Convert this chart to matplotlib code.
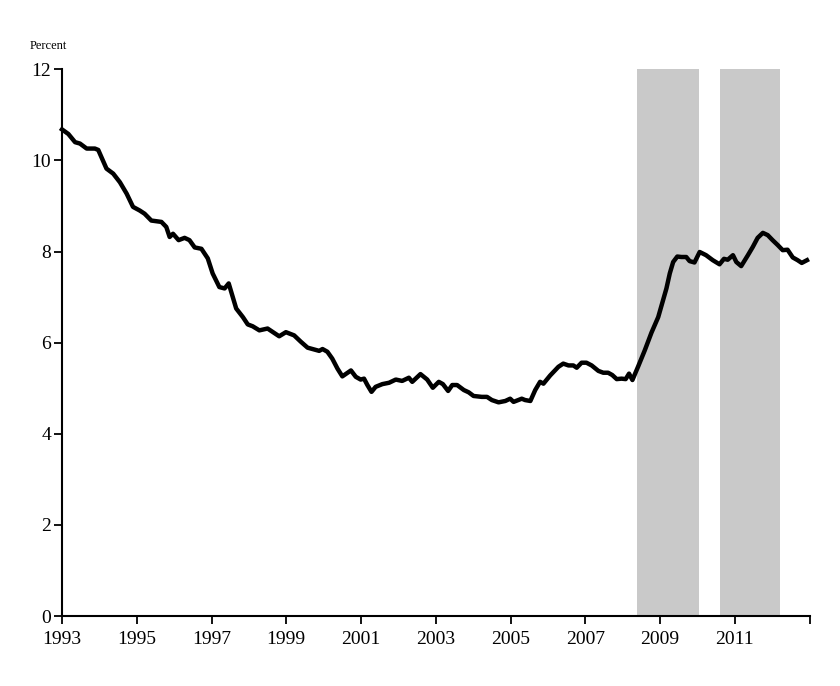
import matplotlib.pyplot as plt

plt.rcParams['font.family'] = ['Liberation Serif', 'DejaVu Serif']

# monthly-ish readings of the series (year, percent)
years = [1993.00, 1993.17, 1993.35, 1993.48, 1993.66, 1993.88, 1993.97, 1994.19, 1994.37, 1994.55,
         1994.73, 1994.90, 1995.08, 1995.21, 1995.39, 1995.66, 1995.79, 1995.88, 1995.97, 1996.12,
         1996.28, 1996.41, 1996.55, 1996.73, 1996.90, 1997.03, 1997.21, 1997.35, 1997.46, 1997.57,
         1997.66, 1997.84, 1997.97, 1998.10, 1998.28, 1998.50, 1998.68, 1998.81, 1998.99, 1999.21,
         1999.39, 1999.57, 1999.75, 1999.88, 1999.97, 2000.10, 2000.23, 2000.37, 2000.50, 2000.73,
         2000.86, 2000.99, 2001.08, 2001.17, 2001.28, 2001.39, 2001.57, 2001.75, 2001.93, 2002.10,
         2002.28, 2002.37, 2002.59, 2002.77, 2002.92, 2003.08, 2003.19, 2003.33, 2003.44, 2003.57,
         2003.75, 2003.88, 2004.01, 2004.23, 2004.37, 2004.50, 2004.68, 2004.86, 2004.99, 2005.08,
         2005.30, 2005.39, 2005.53, 2005.66, 2005.79, 2005.88, 2006.06, 2006.28, 2006.41, 2006.55,
         2006.68, 2006.77, 2006.90, 2007.03, 2007.17, 2007.35, 2007.48, 2007.61, 2007.72, 2007.84,
         2007.97, 2008.08, 2008.17, 2008.26, 2008.41, 2008.59, 2008.77, 2008.95, 2009.08, 2009.17,
         2009.26, 2009.35, 2009.46, 2009.57, 2009.70, 2009.79, 2009.92, 2010.06, 2010.23, 2010.41,
         2010.59, 2010.71, 2010.81, 2010.95, 2011.04, 2011.17, 2011.35, 2011.48, 2011.61, 2011.75,
         2011.88, 2012.01, 2012.15, 2012.28, 2012.41, 2012.55, 2012.68, 2012.79, 2012.93]
rate = [10.68, 10.58, 10.40, 10.37, 10.26, 10.26, 10.23, 9.82, 9.71, 9.52,
        9.27, 8.98, 8.90, 8.83, 8.68, 8.65, 8.54, 8.32, 8.39, 8.25,
        8.30, 8.25, 8.09, 8.06, 7.85, 7.52, 7.22, 7.19, 7.30, 7.00,
        6.75, 6.56, 6.40, 6.36, 6.27, 6.31, 6.21, 6.14, 6.23, 6.16,
        6.02, 5.89, 5.85, 5.82, 5.86, 5.80, 5.65, 5.43, 5.26, 5.39,
        5.25, 5.19, 5.21, 5.07, 4.92, 5.03, 5.09, 5.12, 5.19, 5.16,
        5.23, 5.14, 5.31, 5.19, 5.01, 5.14, 5.09, 4.94, 5.07, 5.07,
        4.96, 4.91, 4.83, 4.81, 4.81, 4.74, 4.69, 4.72, 4.77, 4.70,
        4.77, 4.74, 4.72, 4.96, 5.14, 5.10, 5.28, 5.47, 5.54, 5.50,
        5.50, 5.45, 5.56, 5.56, 5.50, 5.38, 5.34, 5.34, 5.29, 5.20,
        5.21, 5.20, 5.32, 5.18, 5.47, 5.83, 6.22, 6.56, 6.93, 7.19,
        7.52, 7.77, 7.89, 7.88, 7.88, 7.79, 7.76, 7.99, 7.92, 7.81,
        7.72, 7.84, 7.82, 7.92, 7.77, 7.68, 7.92, 8.10, 8.30, 8.41,
        8.36, 8.25, 8.14, 8.03, 8.04, 7.87, 7.81, 7.75, 7.81]

# shaded periods (start, end)
shade_start = [2008.37, 2010.61]
shade_end = [2010.03, 2012.21]

fig = plt.figure(figsize=(8.4, 6.86), dpi=100)
ax = fig.add_axes([0.0738, 0.102, 0.890, 0.797])

for s, e in zip(shade_start, shade_end):
    ax.axvspan(s, e, ymin=0, ymax=1, color='#c9c9c9', lw=0, zorder=1)

ax.plot(years, rate, color='black', lw=3.2, zorder=3, clip_on=False, solid_joinstyle='round')

ax.set_xlim(1993, 2013)
ax.set_ylim(0, 12)
ax.set_yticks(range(0, 13, 2))
xt = list(range(1993, 2014, 2))
ax.set_xticks(xt)
ax.set_xticklabels([str(y) if y < 2013 else '' for y in xt])
ax.tick_params(axis='both', direction='out', length=6, width=1.3, labelsize=14, colors='black')
ax.tick_params(axis='x', pad=5)
ax.tick_params(axis='y', pad=2)

for side in ['top', 'right']:
    ax.spines[side].set_visible(False)
for side in ['left', 'bottom']:
    ax.spines[side].set_linewidth(1.5)

fig.text(30 / 840, 1 - 46 / 686, 'Percent', fontsize=9, ha='left', va='center')

fig.savefig('out.png', dpi=100, facecolor='white')
